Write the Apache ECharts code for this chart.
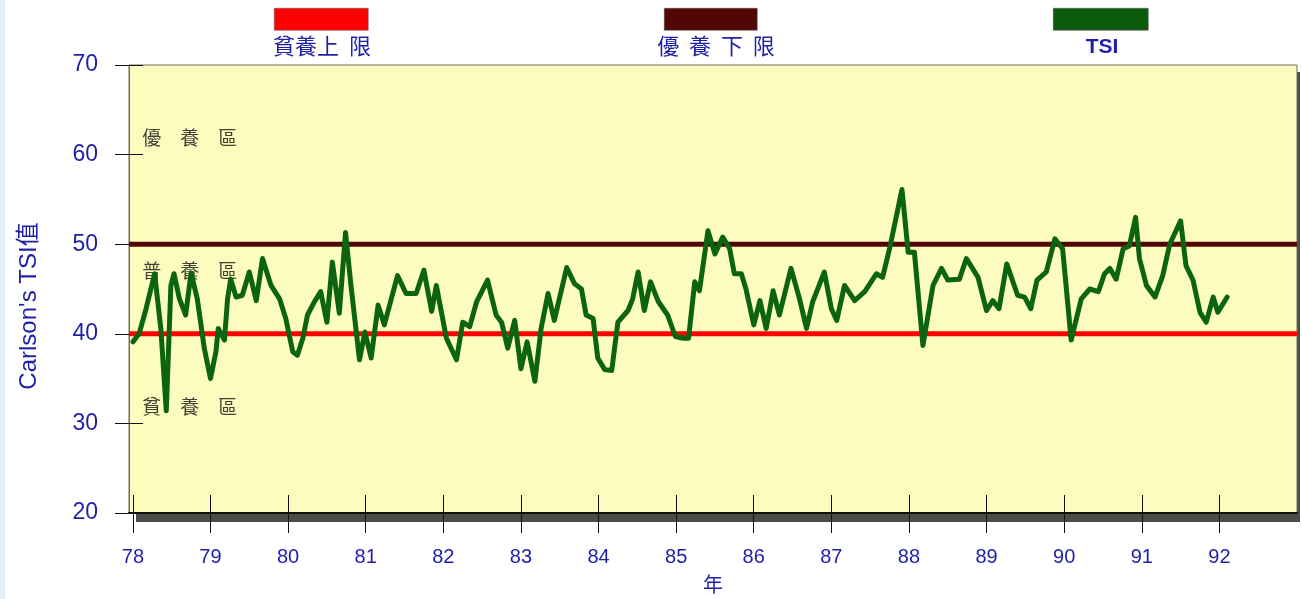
<!DOCTYPE html>
<html>
<head>
<meta charset="utf-8">
<script src="https://cdn.jsdelivr.net/npm/echarts@6/dist/echarts.min.js"></script>
<style>
  html, body { margin: 0; padding: 0; background: #ffffff; }
  #chart { width: 1302px; height: 599px; }
</style>
</head>
<body>
<div id="chart"></div>
<script>
// ---- data ----
const xTicks = [78, 79, 80, 81, 82, 83, 84, 85, 86, 87, 88, 89, 90, 91, 92];
const yTicks = [20, 30, 40, 50, 60, 70];
const xRange = [77.95, 93];
const seriesNames = ['貧養上 限', '優 養 下 限', 'TSI'];
const oligoUpper = 40;   // 貧養上限
const eutroLower = 50;   // 優養下限
const zoneNames = ['優　養　區', '普　養　區', '貧　養　區'];
const zoneValues = [61.9, 47.0, 31.9];

const years = [
  78.00, 78.08, 78.17, 78.28, 78.36, 78.43, 78.49, 78.53, 78.60, 78.68,
  78.75, 78.83, 78.92, 79.00, 79.07, 79.10, 79.18, 79.22, 79.26, 79.33,
  79.41, 79.50, 79.59, 79.67, 79.78, 79.89, 79.97, 80.06, 80.12, 80.19,
  80.25, 80.34, 80.42, 80.50, 80.57, 80.66, 80.74, 80.81, 80.92, 80.99,
  81.07, 81.16, 81.24, 81.41, 81.52, 81.65, 81.75, 81.85, 81.91, 82.04,
  82.17, 82.25, 82.34, 82.43, 82.57, 82.68, 82.75, 82.83, 82.92, 83.00,
  83.08, 83.18, 83.26, 83.35, 83.43, 83.59, 83.69, 83.78, 83.84, 83.93,
  83.99, 84.08, 84.17, 84.25, 84.38, 84.44, 84.51, 84.59, 84.67, 84.77,
  84.89, 84.99, 85.09, 85.16, 85.24, 85.30, 85.41, 85.50, 85.60, 85.69,
  85.75, 85.84, 85.90, 86.00, 86.08, 86.16, 86.25, 86.33, 86.48, 86.59,
  86.68, 86.76, 86.91, 87.00, 87.07, 87.17, 87.30, 87.43, 87.58, 87.66,
  87.75, 87.91, 87.99, 88.07, 88.18, 88.31, 88.42, 88.50, 88.65, 88.74,
  88.89, 89.00, 89.08, 89.16, 89.26, 89.40, 89.49, 89.57, 89.65, 89.77,
  89.88, 89.98, 90.09, 90.22, 90.33, 90.44, 90.52, 90.59, 90.67, 90.76,
  90.84, 90.92, 90.97, 91.06, 91.17, 91.27, 91.36, 91.50, 91.57, 91.66,
  91.75, 91.83, 91.92, 91.98, 92.10
];
const tsi = [
  39.1, 40.0, 42.8, 46.7, 40.6, 31.4, 45.4, 46.7, 43.9, 42.1,
  46.8, 43.9, 38.4, 35.0, 38.0, 40.6, 39.3, 43.9, 46.1, 44.1,
  44.3, 46.9, 43.7, 48.4, 45.4, 43.9, 41.7, 38.0, 37.6, 39.5,
  42.1, 43.6, 44.7, 41.3, 48.0, 42.3, 51.3, 45.4, 37.1, 40.2,
  37.3, 43.2, 41.0, 46.5, 44.5, 44.5, 47.1, 42.5, 45.4, 39.5,
  37.1, 41.3, 40.8, 43.6, 46.0, 42.1, 41.3, 38.4, 41.5, 36.1,
  39.1, 34.7, 40.6, 44.5, 41.5, 47.4, 45.6, 45.0, 42.1, 41.7,
  37.3, 36.0, 35.9, 41.3, 42.6, 43.9, 46.9, 42.6, 45.8, 43.6,
  42.1, 39.7, 39.5, 39.5, 45.8, 44.8, 51.5, 48.9, 50.8, 49.5,
  46.7, 46.7, 45.0, 41.0, 43.7, 40.6, 44.8, 42.1, 47.3, 43.9,
  40.6, 43.6, 46.9, 42.8, 41.5, 45.4, 43.7, 44.7, 46.7, 46.3,
  49.5, 56.1, 49.1, 49.1, 38.7, 45.4, 47.3, 46.0, 46.1, 48.4,
  46.3, 42.6, 43.7, 42.8, 47.8, 44.3, 44.1, 42.8, 46.0, 46.9,
  50.6, 49.5, 39.3, 43.9, 45.0, 44.7, 46.7, 47.3, 46.1, 49.5,
  49.8, 53.0, 48.4, 45.4, 44.1, 46.5, 50.0, 52.6, 47.6, 46.0,
  42.4, 41.3, 44.1, 42.4, 44.1
];

// ---- styles ----
const BLUE = '#1f1fa8';
const RED = '#ff0000';
const MAROON = '#520606';
const GREEN = '#0d6410';
const LATIN = "'Liberation Sans', Arial, sans-serif";
const CJK = "'Noto Sans CJK TC', 'Noto Sans CJK SC', sans-serif";
const MIXED = "'Liberation Sans', 'Noto Sans CJK TC', sans-serif";

const chart = echarts.init(document.getElementById('chart'), null, { renderer: 'canvas' });

const GRID = { left: 129, right: 5, top: 65, bottom: 84 };

const baseX = {
  type: 'value', min: xRange[0], max: xRange[1], gridIndex: 0, position: 'bottom',
  splitLine: { show: false }
};
const baseY = {
  type: 'value', min: yTicks[0], max: yTicks[yTicks.length - 1], interval: 10,
  gridIndex: 0, position: 'left', splitLine: { show: false }
};

const option = {
  backgroundColor: '#ffffff',
  animation: false,
  grid: {
    left: GRID.left, right: GRID.right, top: GRID.top, bottom: GRID.bottom,
    show: true, backgroundColor: '#fdfcbf', borderColor: '#6e6e58', borderWidth: 1
  },
  xAxis: [
    Object.assign({}, baseX, {
      axisLine: { show: true, onZero: false, lineStyle: { color: '#111', width: 2 } },
      axisTick: { show: true, inside: false, length: 20, customValues: xTicks, lineStyle: { color: '#111', width: 1 } },
      axisLabel: { show: true, customValues: xTicks, color: BLUE, fontSize: 20, fontFamily: LATIN, margin: 34 },
      name: '年', nameLocation: 'middle', nameGap: 61,
      nameTextStyle: { color: BLUE, fontSize: 20, fontFamily: CJK }
    }),
    Object.assign({}, baseX, {
      axisLine: { show: false, onZero: false },
      axisTick: { show: true, inside: true, length: 18, customValues: xTicks, lineStyle: { color: '#111', width: 1 } },
      axisLabel: { show: false }
    })
  ],
  yAxis: [
    Object.assign({}, baseY, {
      axisLine: { show: true, onZero: false, lineStyle: { color: '#6e6e58', width: 1 } },
      axisTick: { show: true, inside: false, length: 14, lineStyle: { color: '#111', width: 1 } },
      axisLabel: { color: BLUE, fontSize: 23, fontFamily: LATIN, margin: 31 },
      name: "Carlson's TSI值", nameLocation: 'middle', nameRotate: 90, nameGap: 88,
      nameTextStyle: { color: BLUE, fontSize: 24, fontFamily: MIXED, padding: [0, 34, 0, 0] }
    }),
    Object.assign({}, baseY, {
      axisLine: { show: false, onZero: false },
      axisTick: { show: true, inside: true, length: 14, lineStyle: { color: '#111', width: 1 } },
      axisLabel: { show: false }
    })
  ],
  series: [
    {
      name: seriesNames[0], type: 'line', xAxisIndex: 0, yAxisIndex: 0,
      data: [[xRange[0], oligoUpper], [xRange[1], oligoUpper]],
      symbol: 'none', lineStyle: { color: RED, width: 5 }, z: 2, silent: true
    },
    {
      name: seriesNames[1], type: 'line', xAxisIndex: 0, yAxisIndex: 0,
      data: [[xRange[0], eutroLower], [xRange[1], eutroLower]],
      symbol: 'none', lineStyle: { color: MAROON, width: 5 }, z: 2, silent: true
    },
    {
      name: seriesNames[2], type: 'line', xAxisIndex: 0, yAxisIndex: 0,
      data: years.map((x, i) => [x, tsi[i]]),
      symbol: 'none', lineStyle: { color: GREEN, width: 5, cap: 'round', join: 'round' }, z: 4,
      silent: true
    },
    {
      // zone annotations (drawn beneath the lines)
      name: 'zones', type: 'scatter', xAxisIndex: 0, yAxisIndex: 0,
      data: zoneValues.map((v, i) => ({ value: [78.12, v], name: zoneNames[i] })),
      symbolSize: 0, z: 1, silent: true,
      label: {
        show: true, position: 'right', distance: 0, formatter: p => p.name,
        color: '#111', fontSize: 19, fontFamily: CJK
      }
    }
  ],
  graphic: [
    // light-blue strip at page left edge
    { type: 'rect', left: 0, top: 0, shape: { width: 5, height: 599 }, style: { fill: '#e2f0fc' }, z: -2 },
    // 3D drop shadow behind plot frame
    { type: 'rect', left: 136, top: 72, shape: { width: 1164, height: 450 }, style: { fill: '#4d4d48' }, z: -1 },
    // legend
    { type: 'rect', left: 274, top: 8, shape: { width: 94, height: 22 }, style: { fill: RED, stroke: '#555', lineWidth: 0.5 } },
    { type: 'rect', left: 664, top: 8, shape: { width: 93, height: 22 }, style: { fill: MAROON, stroke: '#555', lineWidth: 0.5 } },
    { type: 'rect', left: 1053, top: 8, shape: { width: 95, height: 22 }, style: { fill: '#0c5a0c', stroke: '#555', lineWidth: 0.5 } },
    { type: 'text', x: 322, y: 46, style: { text: '貧養上  限', x: 0, y: 0, align: 'center', verticalAlign: 'middle', fill: BLUE, fontSize: 22, fontFamily: CJK } },
    { type: 'text', x: 716, y: 46, style: { text: '優  養  下  限', x: 0, y: 0, align: 'center', verticalAlign: 'middle', fill: BLUE, fontSize: 22, fontFamily: CJK } },
    { type: 'text', x: 1102, y: 47, style: { text: 'TSI', x: 0, y: 0, align: 'center', verticalAlign: 'middle', fill: BLUE, fontSize: 21, fontWeight: 'bold', fontFamily: LATIN } }
  ]
};

chart.setOption(option);
</script>
</body>
</html>
